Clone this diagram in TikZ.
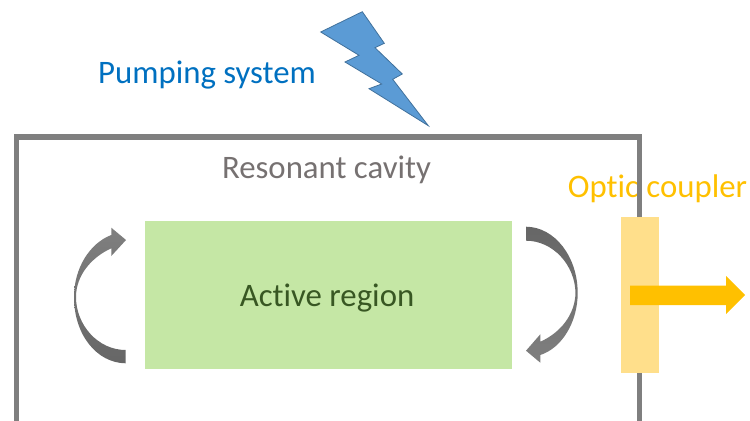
\documentclass[tikz,border=0pt]{standalone}
\usepackage{fontspec}
\setmainfont[Ligatures = NoCommon]{Carlito}
\definecolor{myGray}{HTML}{7F7F7F}
\definecolor{myCavity}{HTML}{767171}
\definecolor{myBlue}{HTML}{0070C0}
\definecolor{myBolt}{HTML}{5B9BD5}
\definecolor{myBoltEdge}{HTML}{41719C}
\definecolor{myGreen}{HTML}{C5E7A5}
\definecolor{myDarkGreen}{HTML}{385723}
\definecolor{myAmber}{HTML}{FFC000}
\definecolor{myPale}{HTML}{FFDF8B}
\colorlet{myDark}{black!60}
\tikzset{
	label text/.style = {inner sep = 0pt, font = \fontsize{24.6}{28}\selectfont},
	bend arrow/.style = {draw = none}
}

\begin{document}
\begin{tikzpicture}[x = 0.75pt, y = -0.75pt]
		\useasboundingbox (0, 0) rectangle (750, 421);
		%%%%%%%%%%%%%
		\node [label text, myBlue] (pump) at (207, 75) {Pumping system};
		\node [label text, myAmber] (out) at (657.5, 188.5) {Optic coupler};
		\node [label text, myCavity] (cavity) at (326.5, 169.5) {Resonant cavity};
		%%%%%%%%%%%%%
		\draw [myGray, line width = 4.2pt, line join = miter] (16.5, 421) -- (16.5, 137) -- (639.5, 137) -- (639.5, 421);
		\draw [fill = myBolt, draw = myBoltEdge, line width = 0.6pt, line join = miter] (320.7, 32) -- (362.3, 11.7) -- (384.3, 43.3) -- (375, 47.7) -- (402.3, 74) -- (392.7, 79.3) -- (428.3, 125.7) -- (369, 88.7) -- (381.7, 84) -- (345, 62) -- (359, 55.3) -- cycle;
		%%%%%%%%%%%%%
		\node [fill = myGreen, minimum width = 275.25pt, minimum height = 111pt, inner sep = 0pt] (active) at (328.5, 295) {};
		\node [label text, myDarkGreen] (activetext) at (327, 298) {Active region};
		\node [fill = myPale, minimum width = 28.5pt, minimum height = 117pt, inner sep = 0pt] (coupler) at (640, 295) {};
		%%%%%%%%%%%%%
		\fill [myAmber] (630, 285.5) -- (726, 285.5) -- (726, 276) -- (745, 295) -- (726, 314) -- (726, 305) -- (630, 305) -- cycle;
		% right side, going down
		\shade [bend arrow, top color = myDark, middle color = myGray, bottom color = myGray] (526, 226.7) .. controls (555, 227) and (577.7, 257) .. (577.7, 293) .. controls (577.7, 322) and (562, 348) .. (540.3, 355) -- (540.3, 362.7) -- (526, 350.7) -- (540.3, 334.3) -- (540.3, 341.7) .. controls (560, 333) and (575, 315) .. (575.5, 293) .. controls (575, 265) and (553, 240.7) .. (526, 240.7) -- cycle;
		% left side, going up
		\shade [bend arrow, top color = myGray, middle color = myGray, bottom color = myDark] (125.7, 363.3) .. controls (97, 363) and (74, 335) .. (74, 297) .. controls (74, 268) and (90, 243) .. (111.3, 235) -- (111.3, 227.7) -- (126, 240) -- (111.3, 256) -- (111.3, 248.3) .. controls (92, 257) and (76, 275) .. (76, 297) .. controls (76, 325) and (98, 350) .. (125.7, 350) -- cycle;
\end{tikzpicture}
\end{document}
